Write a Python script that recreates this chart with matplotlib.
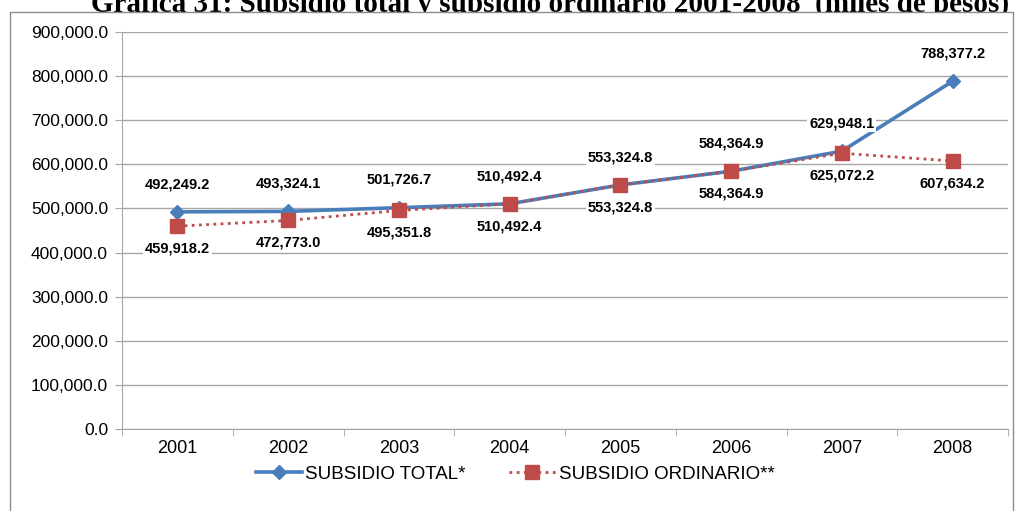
import matplotlib.pyplot as plt
from matplotlib.patches import Rectangle
from matplotlib.ticker import FuncFormatter, FixedLocator

# data (miles de pesos)
years = ['2001', '2002', '2003', '2004', '2005', '2006', '2007', '2008']
subsidio_total = [492249.2, 493324.1, 501726.7, 510492.4, 553324.8, 584364.9, 629948.1, 788377.2]
subsidio_ordinario = [459918.2, 472773.0, 495351.8, 510492.4, 553324.8, 584364.9, 625072.2, 607634.2]

blue = '#4A7EBB'
red = '#BE4B48'
grid_gray = '#A6A6A6'
sans = ['Liberation Sans', 'DejaVu Sans']

W, H = 1015, 511
fig = plt.figure(figsize=(W / 100, H / 100), dpi=100)

# title, partly hidden behind the chart box like in the reference
fig.text(550 / W, 1 - 11.5 / H, 'Gráfica 31: Subsidio total y subsidio ordinario 2001-2008  (miles de pesos)',
         ha='center', va='baseline', fontsize=21, fontweight='bold',
         family=['Liberation Serif', 'DejaVu Serif'], zorder=-2)

# chart box drawn over the title
fig.patches.append(Rectangle((10 / W, -0.01), 1003 / W, 1.01 - 12 / H, transform=fig.transFigure,
                             facecolor='white', edgecolor='#8C8C8C', linewidth=1, zorder=-1))

ax = fig.add_axes([122 / W, 1 - 429 / H, 886 / W, 397 / H])
x = list(range(len(years)))

ax.plot(x, subsidio_total, color=blue, linewidth=2.6, marker='D', markersize=7,
        label='SUBSIDIO TOTAL*', zorder=3)
ax.plot(x, subsidio_ordinario, color=red, linewidth=2, linestyle=(0, (1, 1.6)), marker='s',
        markersize=10, label='SUBSIDIO ORDINARIO**', zorder=4)

lab_font = dict(fontsize=10.5, fontweight='bold', family=sans,
                ha='center', va='center', zorder=5,
                bbox=dict(facecolor='white', edgecolor='none', pad=1.5))
for i in x:
    ax.annotate(f'{subsidio_total[i]:,.1f}', (i, subsidio_total[i]), xytext=(0, 20),
                textcoords='offset points', **lab_font)
    ax.annotate(f'{subsidio_ordinario[i]:,.1f}', (i, subsidio_ordinario[i]), xytext=(0, -16),
                textcoords='offset points', **lab_font)

ax.set_xlim(-0.5, len(years) - 0.5)
ax.set_ylim(0, 900000)
ax.set_yticks(range(0, 900001, 100000))
ax.yaxis.set_major_formatter(FuncFormatter(lambda v, p: f'{v:,.1f}'))
ax.set_xticks(x)
ax.set_xticklabels(years)
ax.xaxis.set_minor_locator(FixedLocator([i - 0.5 for i in range(len(years) + 1)]))
ax.tick_params(axis='x', which='major', length=0, pad=8, labelsize=13)
ax.tick_params(axis='x', which='minor', length=5, color=grid_gray, direction='out')
ax.tick_params(axis='y', length=5, color=grid_gray, pad=5, labelsize=12.5)
for lab in ax.get_xticklabels() + ax.get_yticklabels():
    lab.set_family(sans)

ax.grid(axis='y', color=grid_gray, linewidth=1)
ax.set_axisbelow(True)
for s in ['top', 'right']:
    ax.spines[s].set_visible(False)
for s in ['left', 'bottom']:
    ax.spines[s].set_color(grid_gray)

ax.legend(loc='center', bbox_to_anchor=((515 - 122) / 886, -45 / 397), ncol=2, frameon=False,
          handlelength=2.5, handletextpad=0.15, columnspacing=2.3,
          prop={'family': sans, 'size': 13.5})

fig.savefig('out.png', dpi=100)
